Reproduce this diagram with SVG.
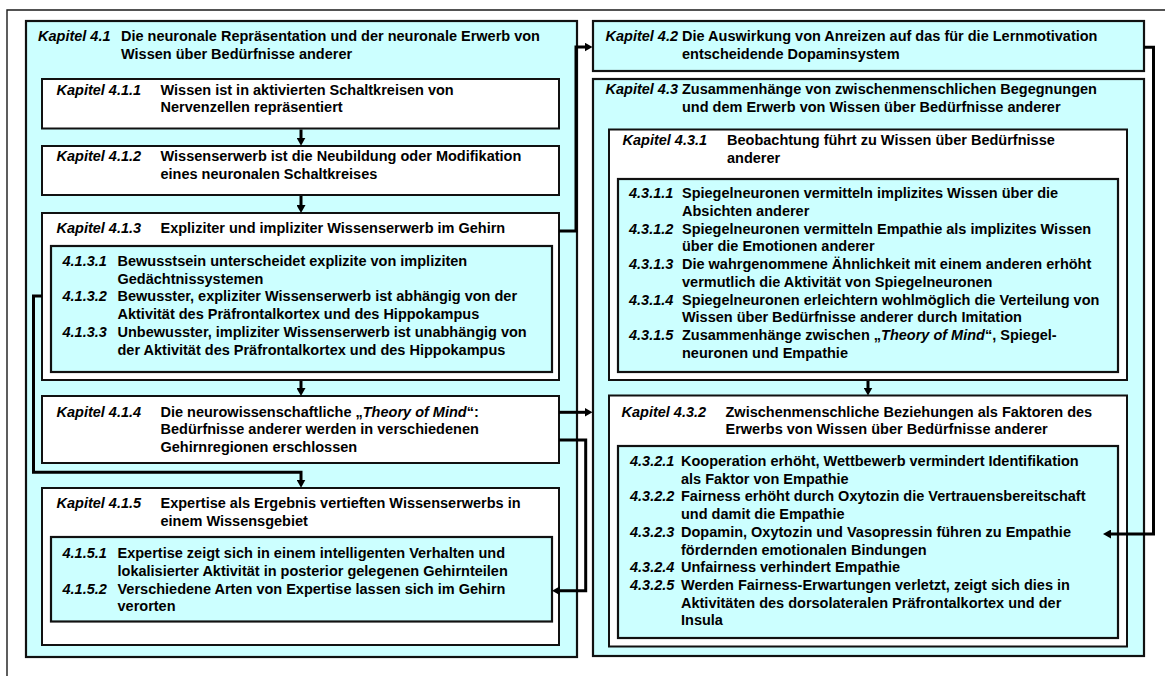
<svg xmlns="http://www.w3.org/2000/svg" width="1165" height="676" viewBox="0 0 1165 676">
  <style>
    .frame { fill: none; stroke: #1a1a1a; stroke-width: 1.4; }
    .cy { fill: #ccffff; stroke: #111; stroke-width: 2.2; }
    .wh { fill: #ffffff; stroke: #111; stroke-width: 2; }
    .t { font-family: "Liberation Sans", Arial, sans-serif; font-size: 14.5px; font-weight: bold; fill: #000; }
    .k { font-style: italic; }
    .c { fill: none; stroke: #000; stroke-width: 3; marker-end: url(#ah); }
  </style>
  <defs>
    <marker id="ah" viewBox="0 0 8 9" refX="2" refY="4.5" markerWidth="8" markerHeight="9" markerUnits="userSpaceOnUse" orient="auto">
      <path d="M0,0 L8,4.5 L0,9 z" fill="#000"/>
    </marker>
  </defs>

  <rect width="1165" height="676" fill="#ffffff"/>
  <!-- page frame -->
  <path class="frame" d="M7,690 V10 H1180"/>

  <!-- chapter 4.1 column -->
  <g id="k4-1">
    <rect class="cy" x="26" y="21" width="551" height="636"/>
    <text class="t k" x="38" y="41">Kapitel 4.1</text>
    <text class="t" x="121" y="41">Die neuronale Repräsentation und der neuronale Erwerb von</text>
    <text class="t" x="121" y="58.6">Wissen über Bedürfnisse anderer</text>
  </g>
  <g id="k4-1-1">
    <rect class="wh" x="42" y="79" width="517" height="49.5"/>
    <text class="t k" x="56.5" y="94.5">Kapitel 4.1.1</text>
    <text class="t" x="160.5" y="94.5">Wissen ist in aktivierten Schaltkreisen von</text>
    <text class="t" x="160.5" y="112">Nervenzellen repräsentiert</text>
  </g>
  <g id="k4-1-2">
    <rect class="wh" x="42" y="146" width="517" height="49"/>
    <text class="t k" x="56.5" y="161">Kapitel 4.1.2</text>
    <text class="t" x="160.5" y="161">Wissenserwerb ist die Neubildung oder Modifikation</text>
    <text class="t" x="160.5" y="178.5">eines neuronalen Schaltkreises</text>
  </g>
  <g id="k4-1-3">
    <rect class="wh" x="42" y="213" width="517" height="167"/>
    <text class="t k" x="56.5" y="233.3">Kapitel 4.1.3</text>
    <text class="t" x="160.5" y="233.3">Expliziter und impliziter Wissenserwerb im Gehirn</text>
    <rect class="cy" x="51" y="246" width="501" height="126"/>
    <text class="t k" x="62.5" y="266">4.1.3.1</text>
    <text class="t" x="117.5" y="266">Bewusstsein unterscheidet explizite von impliziten</text>
    <text class="t" x="117.5" y="283.7">Gedächtnissystemen</text>
    <text class="t k" x="62.5" y="301.4">4.1.3.2</text>
    <text class="t" x="117.5" y="301.4">Bewusster, expliziter Wissenserwerb ist abhängig von der</text>
    <text class="t" x="117.5" y="319.1">Aktivität des Präfrontalkortex und des Hippokampus</text>
    <text class="t k" x="62.5" y="336.8">4.1.3.3</text>
    <text class="t" x="117.5" y="336.8">Unbewusster, impliziter Wissenserwerb ist unabhängig von</text>
    <text class="t" x="117.5" y="354.5">der Aktivität des Präfrontalkortex und des Hippokampus</text>
  </g>
  <g id="k4-1-4">
    <rect class="wh" x="42" y="396" width="517" height="67"/>
    <text class="t k" x="56.5" y="416.7">Kapitel 4.1.4</text>
    <text class="t" x="160.5" y="416.7">Die neurowissenschaftliche „<tspan class="k">Theory of Mind</tspan>“:</text>
    <text class="t" x="160.5" y="434.4">Bedürfnisse anderer werden in verschiedenen</text>
    <text class="t" x="160.5" y="452.1">Gehirnregionen erschlossen</text>
  </g>
  <g id="k4-1-5">
    <rect class="wh" x="42" y="488" width="517" height="157"/>
    <text class="t k" x="56.5" y="508.3">Kapitel 4.1.5</text>
    <text class="t" x="160.5" y="508.3">Expertise als Ergebnis vertieften Wissenserwerbs in</text>
    <text class="t" x="160.5" y="526">einem Wissensgebiet</text>
    <rect class="cy" x="51" y="537" width="501" height="84.5"/>
    <text class="t k" x="62.5" y="558.3">4.1.5.1</text>
    <text class="t" x="117.5" y="558.3">Expertise zeigt sich in einem intelligenten Verhalten und</text>
    <text class="t" x="117.5" y="576">lokalisierter Aktivität in posterior gelegenen Gehirnteilen</text>
    <text class="t k" x="62.5" y="593.7">4.1.5.2</text>
    <text class="t" x="117.5" y="593.7">Verschiedene Arten von Expertise lassen sich im Gehirn</text>
    <text class="t" x="117.5" y="611.4">verorten</text>
  </g>

  <!-- chapters 4.2 and 4.3 column -->
  <g id="k4-2">
    <rect class="cy" x="593" y="21" width="551" height="50"/>
    <text class="t k" x="605.5" y="41">Kapitel 4.2</text>
    <text class="t" x="682" y="41">Die Auswirkung von Anreizen auf das für die Lernmotivation</text>
    <text class="t" x="682" y="58.6">entscheidende Dopaminsystem</text>
  </g>
  <g id="k4-3">
    <rect class="cy" x="593" y="79" width="551" height="577"/>
    <text class="t k" x="605.5" y="94.3">Kapitel 4.3</text>
    <text class="t" x="682" y="94.3">Zusammenhänge von zwischenmenschlichen Begegnungen</text>
    <text class="t" x="682" y="111.9">und dem Erwerb von Wissen über Bedürfnisse anderer</text>
  </g>
  <g id="k4-3-1">
    <rect class="wh" x="609" y="129.5" width="518" height="250.5"/>
    <text class="t k" x="622.5" y="145">Kapitel 4.3.1</text>
    <text class="t" x="727" y="145">Beobachtung führt zu Wissen über Bedürfnisse</text>
    <text class="t" x="727" y="162.6">anderer</text>
    <rect class="cy" x="618" y="179" width="500" height="193"/>
    <text class="t k" x="629" y="198.3">4.3.1.1</text>
    <text class="t" x="682" y="198.3">Spiegelneuronen vermitteln implizites Wissen über die</text>
    <text class="t" x="682" y="216">Absichten anderer</text>
    <text class="t k" x="629" y="233.7">4.3.1.2</text>
    <text class="t" x="682" y="233.7">Spiegelneuronen vermitteln Empathie als implizites Wissen</text>
    <text class="t" x="682" y="251.4">über die Emotionen anderer</text>
    <text class="t k" x="629" y="269.1">4.3.1.3</text>
    <text class="t" x="682" y="269.1">Die wahrgenommene Ähnlichkeit mit einem anderen erhöht</text>
    <text class="t" x="682" y="286.8">vermutlich die Aktivität von Spiegelneuronen</text>
    <text class="t k" x="629" y="304.5">4.3.1.4</text>
    <text class="t" x="682" y="304.5">Spiegelneuronen erleichtern wohlmöglich die Verteilung von</text>
    <text class="t" x="682" y="322.2">Wissen über Bedürfnisse anderer durch Imitation</text>
    <text class="t k" x="629" y="339.9">4.3.1.5</text>
    <text class="t" x="682" y="339.9">Zusammenhänge zwischen „<tspan class="k">Theory of Mind</tspan>“, Spiegel-</text>
    <text class="t" x="682" y="357.6">neuronen und Empathie</text>
  </g>
  <g id="k4-3-2">
    <rect class="wh" x="609" y="395.5" width="518" height="251"/>
    <text class="t k" x="621.5" y="416.7">Kapitel 4.3.2</text>
    <text class="t" x="725.5" y="416.7">Zwischenmenschliche Beziehungen als Faktoren des</text>
    <text class="t" x="725.5" y="434.4">Erwerbs von Wissen über Bedürfnisse anderer</text>
    <rect class="cy" x="618" y="446" width="500" height="192"/>
    <text class="t k" x="630" y="466">4.3.2.1</text>
    <text class="t" x="681" y="466">Kooperation erhöht, Wettbewerb vermindert Identifikation</text>
    <text class="t" x="681" y="483.7">als Faktor von Empathie</text>
    <text class="t k" x="630" y="501.4">4.3.2.2</text>
    <text class="t" x="681" y="501.4">Fairness erhöht durch Oxytozin die Vertrauensbereitschaft</text>
    <text class="t" x="681" y="519.1">und damit die Empathie</text>
    <text class="t k" x="630" y="536.8">4.3.2.3</text>
    <text class="t" x="681" y="536.8">Dopamin, Oxytozin und Vasopressin führen zu Empathie</text>
    <text class="t" x="681" y="554.5">fördernden emotionalen Bindungen</text>
    <text class="t k" x="630" y="572.2">4.3.2.4</text>
    <text class="t" x="681" y="572.2">Unfairness verhindert Empathie</text>
    <text class="t k" x="630" y="589.9">4.3.2.5</text>
    <text class="t" x="681" y="589.9">Werden Fairness-Erwartungen verletzt, zeigt sich dies in</text>
    <text class="t" x="681" y="607.6">Aktivitäten des dorsolateralen Präfrontalkortex und der</text>
    <text class="t" x="681" y="625.3">Insula</text>
  </g>

  <!-- connectors -->
  <g id="connectors">
    <path class="c" d="M301,129.5 V139.7"/>
    <path class="c" d="M301,196 V207"/>
    <path class="c" d="M301,381 V390"/>
    <path class="c" d="M42,296 H33.5 V472.3 H301 V481.7"/>
    <path class="c" d="M559,231 H576 V47 H586.5"/>
    <path class="c" d="M559,412.3 H586.5"/>
    <path class="c" d="M559,440 H585.7 V590.7 H558"/>
    <path class="c" d="M1144,47.3 H1153.5 V534 H1109"/>
    <path class="c" d="M868,381 V389.5"/>
  </g>
</svg>
